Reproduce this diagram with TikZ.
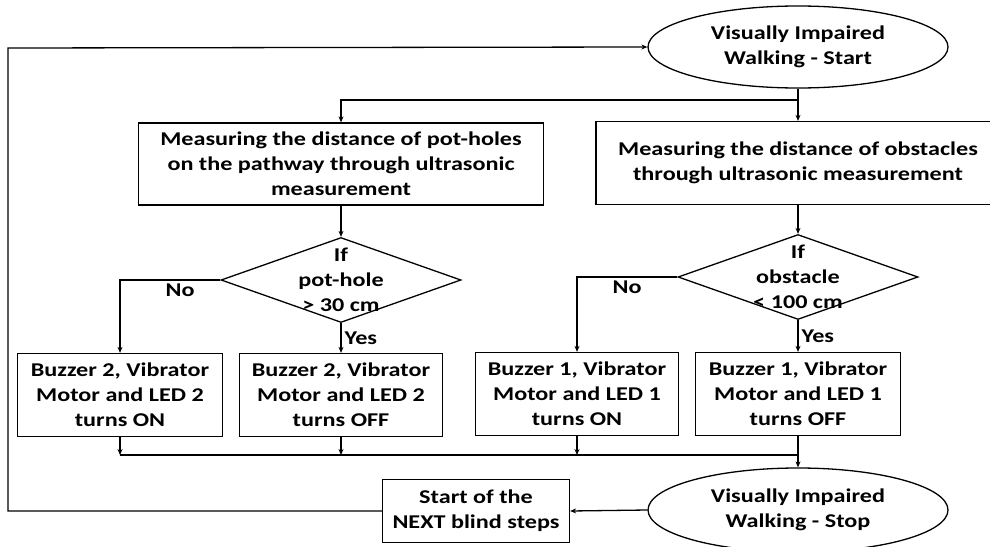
\documentclass[tikz,border=0pt]{standalone}
\usepackage{fontspec}
\setmainfont{Carlito}[FakeStretch=1.24]
\usepackage{tikz}
\usetikzlibrary{arrows.meta, shapes.geometric}
\newcommand{\flowfont}{\fontsize{19.5}{25}\selectfont\bfseries}

\begin{document}
\begin{tikzpicture}[
  x=1pt, y=-1pt,
  box/.style={draw, line width=1.3pt, inner sep=0pt, align=center, font=\flowfont},
  term/.style={box, ellipse, minimum width=300pt, minimum height=82pt},
  dec/.style={draw, diamond, line width=1.3pt, inner sep=0pt, minimum width=240pt, minimum height=85pt},
  txt/.style={align=center, font=\flowfont, inner sep=0pt},
  line/.style={line width=1.3pt},
  arrow/.style={line, -{Stealth[length=6pt, width=5pt]}},
  lbl/.style={font=\flowfont, inner sep=3pt}
]
\useasboundingbox (0,0) rectangle (990,546);

\node[term] (start) at (798,47) {Visually Impaired\\Walking - Start};

\node[box, minimum width=405pt, minimum height=82pt] (pot) at (341,164)
  {Measuring the distance of pot-holes\\on the pathway through ultrasonic\\measurement};
\node[box, minimum width=404pt, minimum height=83pt] (obs) at (798,163)
  {Measuring the distance of obstacles\\through ultrasonic measurement};

\node[dec] (potdec) at (341,280) {};
\node[txt] at (potdec) {If\\pot-hole\\> 30 cm};
\node[dec] (obsdec) at (798,277) {};
\node[txt] at (obsdec) {If\\obstacle\\< 100 cm};

\node[box, minimum width=205pt, minimum height=83pt] (potno) at (120,395)
  {Buzzer 2, Vibrator\\Motor and LED 2\\turns ON};
\node[box, minimum width=203pt, minimum height=83pt] (potyes) at (341,395)
  {Buzzer 2, Vibrator\\Motor and LED 2\\turns OFF};
\node[box, minimum width=203pt, minimum height=83pt] (obsno) at (577,394)
  {Buzzer 1, Vibrator\\Motor and LED 1\\turns ON};
\node[box, minimum width=205pt, minimum height=83pt] (obsyes) at (798,394)
  {Buzzer 1, Vibrator\\Motor and LED 1\\turns OFF};

\node[term, minimum height=84pt] (stop) at (798,510) {Visually Impaired\\Walking - Stop};
\node[box, minimum width=187pt, minimum height=63pt] (next) at (476,511)
  {Start of the\\NEXT blind steps};

\coordinate (split) at (798,100);
\coordinate (mergeL) at (120,455);
\coordinate (mergeR) at (798,455);
\coordinate (loop) at (8,48);

\draw[arrow] (start.south) -- (obs.north);
\draw[arrow] (split) -| (pot.north);
\draw[arrow] (pot.south) -- (potdec.north);
\draw[arrow] (obs.south) -- (obsdec.north);

\draw[arrow] (potdec.west) -| node[lbl, pos=0.2, below] {No} (potno.north);
\draw[arrow] (potdec.south) -- node[lbl, right] {Yes} (potyes.north);
\draw[arrow] (obsdec.west) -| node[lbl, pos=0.25, below] {No} (obsno.north);
\draw[arrow] (obsdec.south) -- node[lbl, right] {Yes} (obsyes.north);

\draw[line] (mergeL) -- (mergeR);
\draw[arrow] (potno.south) -- (mergeL);
\draw[arrow] (potyes.south) -- (potyes.south |- mergeL);
\draw[arrow] (obsno.south) -- (obsno.south |- mergeL);
\draw[arrow] (obsyes.south) -- (stop.north);

\draw[arrow] (stop.west) -- (next.east);
\draw[arrow] (next.west) -| (loop) -- (start.west);
\end{tikzpicture}
\end{document}
